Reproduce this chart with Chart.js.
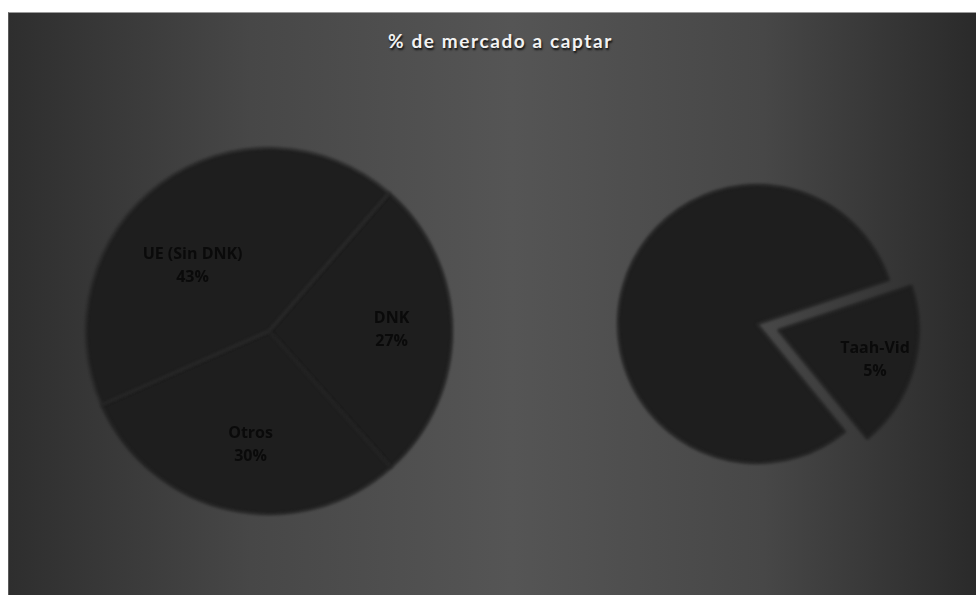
<!DOCTYPE html>
<html>
<head>
<meta charset="utf-8">
<script src="https://cdn.jsdelivr.net/npm/chart.js@4/dist/chart.umd.min.js"></script>
<style>
  html, body { margin: 0; padding: 0; background: #fff; }
  body { width: 976px; height: 595px; position: relative; overflow: hidden; }
  #panel {
    position: absolute; left: 8px; top: 12px; width: 968px; height: 583px;
    background: linear-gradient(90deg, #2e2e2e 0%, #474747 25%, #555 52%, #474747 78%, #2a2a2a 100%);
    border-top: 1px solid #9a9a9a; border-left: 1px solid #5a5a5a; box-sizing: border-box;
  }
  #title {
    position: absolute; left: 0; top: 16px; width: 100%; padding-left: 16px; box-sizing: border-box;
    text-align: center; color: #f2f2f2; font: bold 19px Lato, sans-serif; letter-spacing: 1.6px;
    text-shadow: 1px 2px 2px rgba(0,0,0,0.8);
  }
  canvas { position: absolute; }
  #leftPie { left: 69px; top: 131px; }
  #rightPie { left: 577px; top: 144px; }
</style>
</head>
<body>
<div id="panel"><div id="title">% de mercado a captar</div></div>
<canvas id="leftPie" width="400" height="400"></canvas>
<canvas id="rightPie" width="360" height="360"></canvas>
<script>
'use strict'

//Market split
let marketLabels = ['DNK', 'Otros', 'UE (Sin DNK)']
let marketShares = [27, 30, 43]

//Share to capture (second slice left unlabelled)
let captureLabels = ['Taah-Vid', '']
let captureShares = [5, 21]

let sliceColor = '#1e1e1e'

//soft edges on the pie, labels drawn sharp afterwards
let softPie = {
    id: 'softPie',
    beforeDatasetsDraw(chart) {
        chart.ctx.save()
        chart.ctx.filter = 'blur(1.6px)'
    },
    afterDatasetsDraw(chart) {
        chart.ctx.restore()
    }
}

//name + value in the middle of each slice
let sliceLabels = {
    id: 'sliceLabels',
    afterDatasetsDraw(chart, args, opts) {
        let ctx = chart.ctx
        let ds = chart.data.datasets[0]
        let meta = chart.getDatasetMeta(0)
        ctx.save()
        ctx.fillStyle = '#0a0a0a'
        ctx.font = 'bold 16px "Open Sans", sans-serif'
        ctx.textAlign = 'center'
        ctx.textBaseline = 'middle'
        meta.data.forEach((arc, i) => {
            let name = chart.data.labels[i]
            if (!name) return
            let mid = (arc.startAngle + arc.endAngle) / 2 + (opts.turn[i] || 0) * Math.PI / 180
            // chart.js moves an offset arc by offset / 4
            let off = Array.isArray(ds.offset) ? ds.offset[i] / 4 : 0
            let dist = arc.outerRadius * opts.at[i] + off
            let x = arc.x + Math.cos(mid) * dist
            let y = arc.y + Math.sin(mid) * dist
            ctx.fillText(name, x, y - 11.5)
            ctx.fillText(ds.data[i] + '%', x, y + 11.5)
        })
        ctx.restore()
    }
}

function pieChart(canvasId, labels, values, rotation, radius, borderColors, offsets, labelOpts) {
    return new Chart(document.getElementById(canvasId).getContext('2d'), {
        type: 'pie',
        data: {
            labels: labels,
            datasets: [{
                data: values,
                backgroundColor: sliceColor,
                borderColor: borderColors,
                borderWidth: 1.4,
                offset: offsets
            }]
        },
        options: {
            responsive: false,
            animation: false,
            rotation: rotation,
            radius: radius,
            plugins: {
                legend: { display: false },
                tooltip: { enabled: false },
                sliceLabels: labelOpts
            }
        },
        plugins: [softPie, sliceLabels]
    })
}

let marketChart = pieChart('leftPie', marketLabels, marketShares, 41, 183,
    [sliceColor, sliceColor, '#2a2a2a'], [0, 0, 0], { at: [0.67, 0.63, 0.55], turn: [0, -3, -13] })
let captureChart = pieChart('rightPie', captureLabels, captureShares, 71.5, 139,
    sliceColor, [88, 0], { at: [0.73, 0.6], turn: [1, 0] })
</script>
</body>
</html>
